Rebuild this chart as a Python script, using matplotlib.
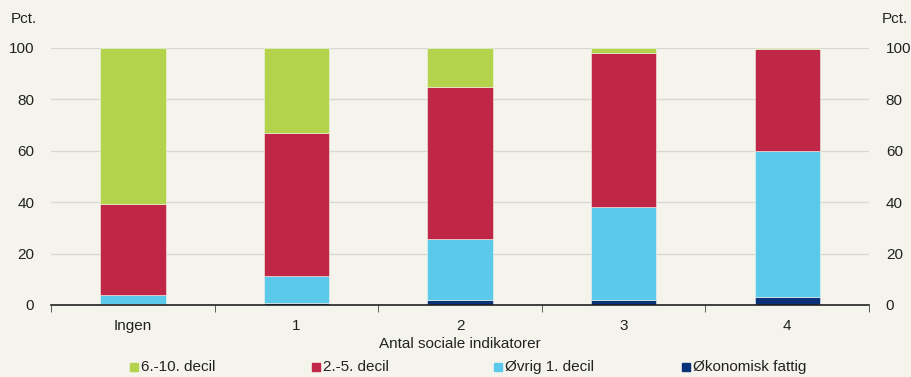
import matplotlib.pyplot as plt
import numpy as np
from matplotlib.patches import Rectangle

plt.rcParams["font.family"] = ["Liberation Sans", "DejaVu Sans"]

categories = ["Ingen", "1", "2", "3", "4"]
fattig = [0.5, 0.9, 2.0, 2.0, 3.0]
oevrig_1 = [3.4, 10.4, 23.7, 36.1, 56.9]
decil_2_5 = [35.4, 55.6, 59.1, 60.0, 39.7]
decil_6_10 = [60.7, 33.1, 15.2, 1.9, 0.4]

series = [
    ("Økonomisk fattig", fattig, "#0a3279"),
    ("Øvrig 1. decil", oevrig_1, "#5bc9ea"),
    ("2.-5. decil", decil_2_5, "#c02645"),
    ("6.-10. decil", decil_6_10, "#b2d34b"),
]

bg = "#f5f4ec"
fig = plt.figure(figsize=(9.11, 3.77), dpi=100, facecolor=bg)
ax = fig.add_axes([0.056, 0.191, 0.898, 0.682], facecolor=bg)

x = np.arange(len(categories))
bottom = np.zeros(len(categories))
for name, vals, col in series:
    ax.bar(x, vals, width=0.4, bottom=bottom, color=col, edgecolor=bg,
           linewidth=0.4, zorder=3)
    bottom += np.array(vals)

ax.set_xlim(-0.5, 4.5)
ax.set_ylim(0, 100)
ax.set_yticks(range(0, 101, 20))
ax.grid(axis="y", color="#d8d8d3", linewidth=1, zorder=0)
for s in ["top", "left", "right"]:
    ax.spines[s].set_visible(False)
ax.spines["bottom"].set_color("#222222")
ax.spines["bottom"].set_linewidth(1.2)
ax.spines["bottom"].set_zorder(4)

ax.set_xticks(x)
ax.set_xticklabels(categories)
ax.set_xticks(np.arange(-0.5, 5, 1), minor=True)
ax.tick_params(axis="x", which="major", length=0, pad=10, labelsize=11, colors="#222222")
ax.tick_params(axis="x", which="minor", length=5, direction="out", color="#444444")
ax.tick_params(axis="y", length=0, labelsize=11, pad=12, colors="#222222")
ax.set_xlabel("Antal sociale indikatorer", fontsize=11, color="#222222", labelpad=3)

ax2 = ax.twinx()
ax2.set_ylim(0, 100)
ax2.set_yticks(range(0, 101, 20))
for s in ["top", "left", "right", "bottom"]:
    ax2.spines[s].set_visible(False)
ax2.tick_params(axis="y", length=0, labelsize=11, pad=12, colors="#222222")

fig.text(0.012, 0.93, "Pct.", fontsize=11, color="#222222", va="bottom")
fig.text(0.968, 0.93, "Pct.", fontsize=11, color="#222222", va="bottom")

# legend laid out manually in one row
legend_items = [series[3], series[2], series[1], series[0]]
xs = [130, 312, 494, 682]
for (name, _, col), px in zip(legend_items, xs):
    fig.patches.append(Rectangle((px / 911, 6 / 377), 8 / 911, 8 / 377,
                                 transform=fig.transFigure, color=col))
    fig.text((px + 11) / 911, 10 / 377, name, fontsize=11, color="#222222",
             va="center")

plt.savefig("out.png", dpi=100, facecolor=bg)
